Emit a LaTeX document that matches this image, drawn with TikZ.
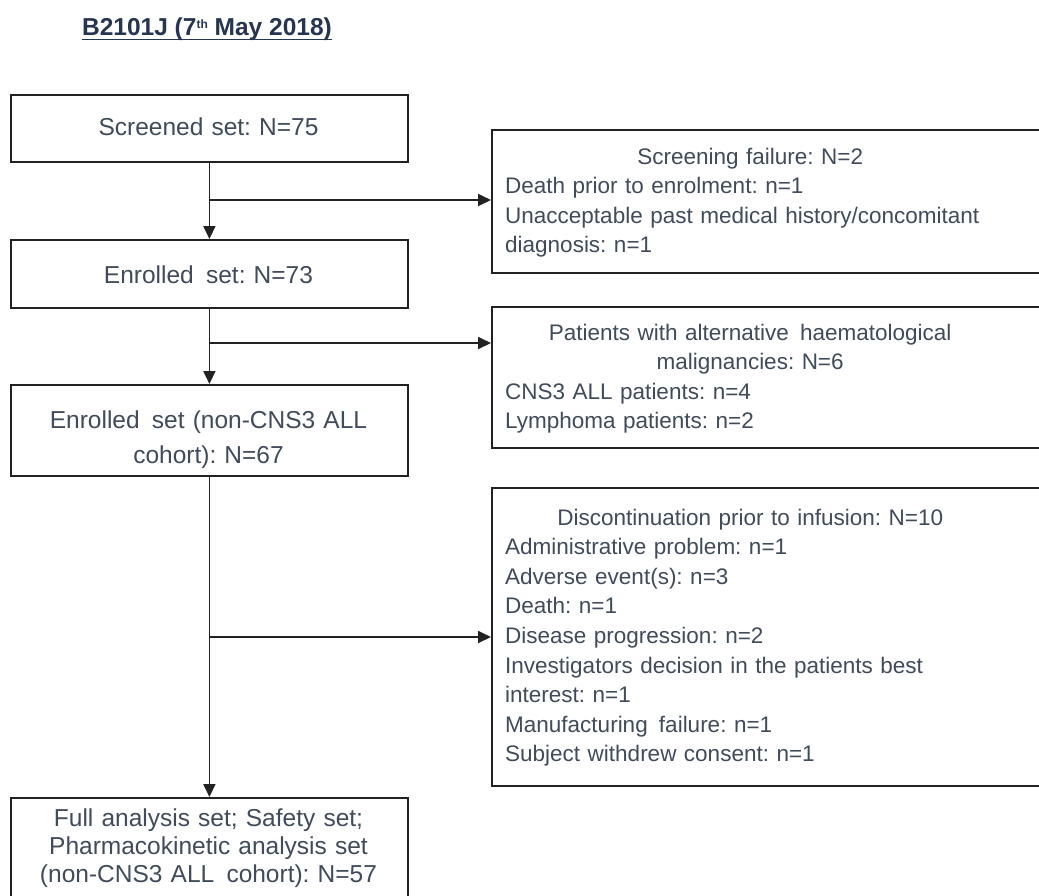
\documentclass[tikz,border=0pt]{standalone}
\usepackage{fontspec}
\setmainfont{Liberation Sans}
\usetikzlibrary{arrows.meta}
\definecolor{txt}{HTML}{404B5B}
\definecolor{ttl}{HTML}{263550}
\definecolor{ln}{HTML}{222222}
\frenchspacing

\begin{document}
\begin{tikzpicture}[x=1pt,y=-1pt,
  frame/.style={draw=ln, line width=1.8pt, rectangle, inner sep=0pt, anchor=north west},
  lbox/.style={frame, minimum width=397pt},
  rbox/.style={frame, minimum width=554pt},
  ltext/.style={text=txt, font=\fontsize{24.5}{35}\selectfont, align=center,
    text width=397pt, inner sep=0pt, anchor=base},
  rtext/.style={text=txt, font=\fontsize{22.5}{29.6}\selectfont, align=left,
    text width=490pt, inner sep=0pt, anchor=base west},
  link/.style={draw=ln, line width=1.8pt},
  flow/.style={link, -{Triangle[length=13pt,width=12pt]}}]

\useasboundingbox (0,0) rectangle (1039,895);
\fill[white] (0,0) rectangle (1039,895);
\clip (0,0) rectangle (1039,895);

% heading
\node[text=ttl, font=\fontsize{24.5}{28}\selectfont\bfseries, inner sep=0pt, anchor=base]
  (title) at (207,35) {B2101J (7\raisebox{7pt}{\fontsize{12}{14}\selectfont th} May 2018)};
\draw[ttl, line width=1.6pt] ([yshift=-4.5pt]title.base west) -- ([yshift=-4.5pt]title.base east);

% main column
\node[lbox, minimum height=67pt] (s1) at (10,94) {};
\node[ltext] (s1t) at (208.5,135) {Screened set: N=75};

\node[lbox, minimum height=68pt] (s2) at (10,239) {};
\node[ltext] (s2t) at (208.5,283) {Enrolled\, set: N=73};

\node[lbox, minimum height=91pt] (s3) at (10,384) {};
\node[ltext] (s3t) at (208.5,428) {Enrolled\, set (non-CNS3 ALL\\cohort): N=67};

\node[lbox, minimum height=115pt] (s4) at (10,797) {};
\node[ltext, font=\fontsize{24.5}{28.2}\selectfont] (s4t) at (208.5,826)
  {Full analysis set; Safety set;\\Pharmacokinetic analysis set\\(non-CNS3 ALL\, cohort): N=57};

% side boxes
\node[rbox, minimum height=143pt] (r1) at (491,129) {};
\node[rtext] (r1t) at (505,164)
  {\makebox[490pt]{Screening failure: N=2}\\
   Death prior to enrolment: n=1\\
   Unacceptable past medical history/concomitant\\
   diagnosis: n=1};

\node[rbox, minimum height=141pt] (r2) at (491,306) {};
\node[rtext] (r2t) at (505,340)
  {\makebox[490pt]{Patients with alternative\, haematological}\\
   \makebox[490pt]{malignancies: N=6}\\
   CNS3 ALL patients: n=4\\
   Lymphoma patients: n=2};

\node[rbox, minimum height=298pt] (r3) at (491,487) {};
\node[rtext] (r3t) at (505,525)
  {\makebox[490pt]{Discontinuation prior to infusion: N=10}\\
   Administrative problem: n=1\\
   Adverse event(s): n=3\\
   Death: n=1\\
   Disease progression: n=2\\
   Investigators decision in the patients best\\
   interest: n=1\\
   Manufacturing\, failure: n=1\\
   Subject withdrew consent: n=1};

% branch points on the main line
\coordinate (b1) at (s1.south |- 0,200);
\coordinate (b2) at (s2.south |- 0,343);
\coordinate (b3) at (s3.south |- 0,637);

% connectors
\draw[flow] (s1.south) -- (s2.north);
\draw[flow] (s2.south) -- (s3.north);
\draw[flow] (s3.south) -- (s4.north);
\draw[flow] (b1) -- (b1 -| r1.west);
\draw[flow] (b2) -- (b2 -| r2.west);
\draw[flow] (b3) -- (b3 -| r3.west);
\end{tikzpicture}
\end{document}
